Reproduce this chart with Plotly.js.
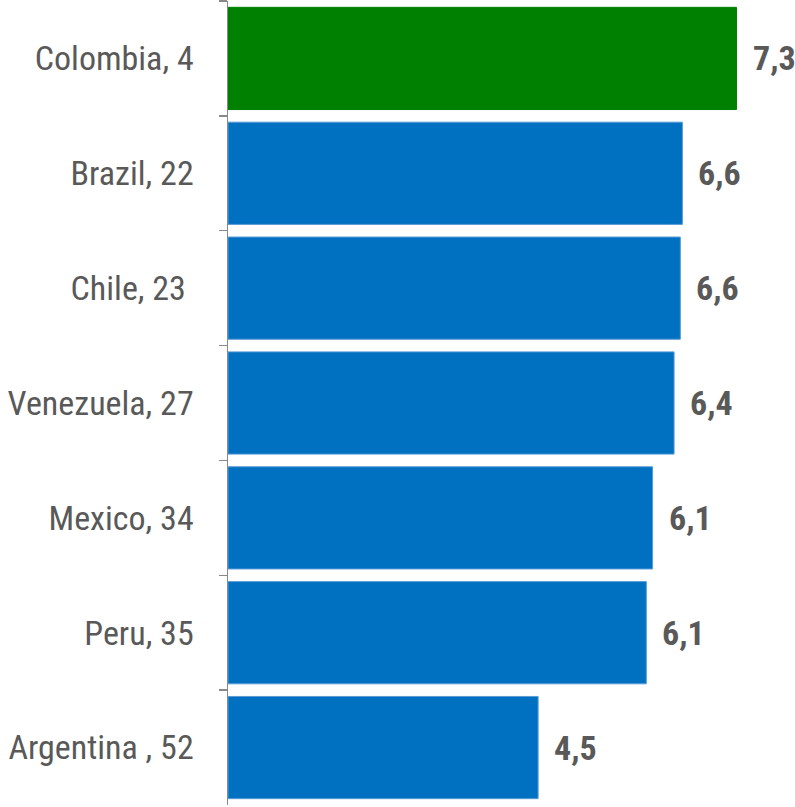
<!DOCTYPE html>
<html>
<head>
<meta charset="utf-8">
<script src="https://cdn.plot.ly/plotly-3.0.1.min.js"></script>
<style>html,body{margin:0;padding:0;background:#fff;}#chart{width:795px;height:807px;}</style>
</head>
<body>
<div id="chart"></div>
<script>
const categories = ["Colombia, 4", "Brazil, 22", "Chile, 23\u00A0", "Venezuela, 27", "Mexico, 34", "Peru, 35", "Argentina , 52"];
const values = [7.33, 6.55, 6.52, 6.43, 6.12, 6.03, 4.47];
const valueLabels = ["7,3", "6,6", "6,6", "6,4", "6,1", "6,1", "4,5"];
const barColors = ["#008000", "#0070C0", "#0070C0", "#0070C0", "#0070C0", "#0070C0", "#0070C0"];
const lineColors = ["#008000", "#5B9BD5", "#5B9BD5", "#5B9BD5", "#5B9BD5", "#5B9BD5", "#5B9BD5"];

const fontFam = "'Liberation Sans Narrow', 'Arial Narrow', 'Roboto Condensed', 'Liberation Sans', sans-serif";

const trace = {
  type: "bar",
  orientation: "h",
  y: categories,
  x: values,
  marker: {color: barColors, line: {color: lineColors, width: 1}},
  hoverinfo: "none"
};

const annotations = values.map((v, i) => ({
  x: v, y: categories[i], xref: "x", yref: "y",
  text: "<b>" + valueLabels[i] + "</b>",
  showarrow: false, xanchor: "left", yanchor: "middle", xshift: 14,
  font: {family: fontFam, size: 34, color: "#595959"}
}));

const layout = {
  width: 795, height: 807,
  margin: {l: 228, r: 12, t: 1, b: 2},
  paper_bgcolor: "#fff", plot_bgcolor: "#fff",
  showlegend: false,
  bargap: 0.11,
  xaxis: {range: [0, 8], visible: false, fixedrange: true},
  yaxis: {
    type: "category",
    autorange: "reversed",
    showline: true, linecolor: "#898989", linewidth: 1.5,
    ticks: "outside", ticklen: 8, tickcolor: "#898989", tickwidth: 1.5,
    tickson: "boundaries",
    ticklabelstandoff: 26,
    showgrid: false, zeroline: false,
    tickfont: {family: fontFam, size: 34, color: "#595959"}
  },
  annotations: annotations
};

Plotly.newPlot("chart", [trace], layout, {displayModeBar: false, staticPlot: true});
</script>
</body>
</html>
